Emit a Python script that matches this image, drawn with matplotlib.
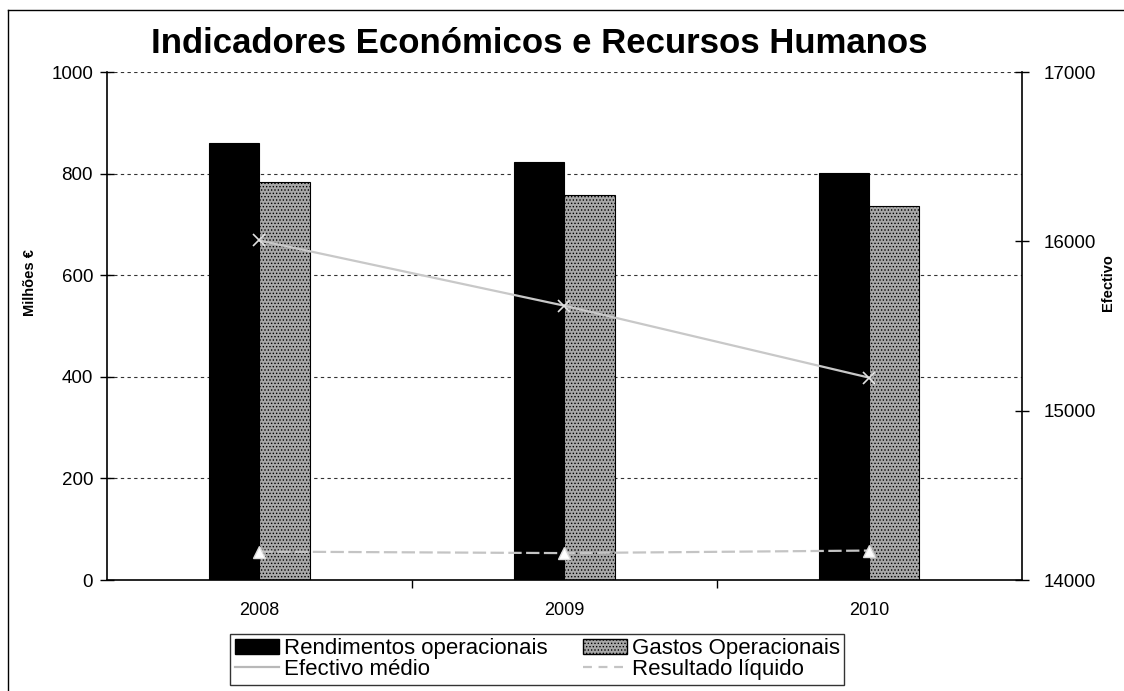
import matplotlib.pyplot as plt
import numpy as np
from matplotlib.lines import Line2D
from matplotlib.patches import Patch

plt.rcParams['font.family'] = ['Liberation Sans', 'DejaVu Sans']
plt.rcParams['hatch.color'] = '#3a3a3a'
plt.rcParams['hatch.linewidth'] = 0.6

anos = ['2008', '2009', '2010']
rendimentos = [860, 823, 801]      # Milhões €
gastos = [783, 758, 736]           # Milhões €
resultado = [56, 53, 58]           # Milhões €
efectivo = [16005, 15620, 15195]   # pessoas

x = np.arange(len(anos))
w = 0.165

fig = plt.figure(figsize=(11.24, 6.91), dpi=100)
ax = fig.add_axes([0.0952, 0.1606, 0.8137, 0.7352])
ax2 = ax.twinx()

# grelha
for g in [200, 400, 600, 800, 1000]:
    ax.axhline(g, color='#333333', lw=0.8, ls=(0, (3, 3)), zorder=0.5)

ax.bar(x - w / 2, rendimentos, w, color='black', edgecolor='black', lw=0.8, zorder=2)
ax.bar(x + w / 2, gastos, w, color='#a8a8a8', edgecolor='black', lw=0.8,
       hatch='.....', zorder=2)
ax.plot(x, resultado, color='#c4c4c4', lw=1.6, ls=(0, (6, 2)), marker='^',
        ms=9, mfc='white', mec='#dcdcdc', zorder=3)

ax2.plot(x, efectivo, color='#c8c8c8', lw=1.6, marker='x', ms=9, mew=1.2, mec='#e0e0e0')

ax.set_xlim(-0.5, 2.5)
ax.set_ylim(0, 1000)
ax2.set_ylim(14000, 17000)
ax.set_yticks([0, 200, 400, 600, 800, 1000])
ax2.set_yticks([14000, 15000, 16000, 17000])

ax.set_xticks([0.5, 1.5])
ax.set_xticklabels([])
ax.set_xticks(x, minor=True)
ax.set_xticklabels(anos, minor=True)
ax.tick_params(axis='x', which='major', direction='out', length=6, width=1)
ax.tick_params(axis='x', which='minor', length=0, pad=16, labelsize=13)
ax.tick_params(axis='y', direction='inout', length=10, width=1, labelsize=13.5, pad=5)
ax2.tick_params(axis='y', direction='inout', length=10, width=1, labelsize=13.5, pad=11)

for a in (ax, ax2):
    a.spines['top'].set_visible(False)
ax.spines['right'].set_visible(False)
ax2.spines['left'].set_visible(False)
ax2.spines['bottom'].set_visible(False)
ax.spines['left'].set_linewidth(1.2)
ax2.spines['right'].set_linewidth(1.2)
ax.spines['bottom'].set_linewidth(1.2)

ax.set_ylabel('Milhões €', fontsize=10.5, fontweight='bold')
ax2.set_ylabel('Efectivo', fontsize=10.5, fontweight='bold')
ax.yaxis.set_label_coords(-0.077, 0.585)
ax2.yaxis.set_label_coords(1.087, 0.585)

fig.text(0.48, 0.937, 'Indicadores Económicos e Recursos Humanos', ha='center',
         va='center', fontsize=25, fontweight='bold')

handles = [
    Patch(facecolor='black', edgecolor='black'),
    Line2D([], [], color='#b8b8b8', lw=1.6),
    Patch(facecolor='#a8a8a8', edgecolor='black', hatch='.....'),
    Line2D([], [], color='#c4c4c4', lw=1.6, ls=(0, (4, 3))),
]
labels = ['Rendimentos operacionais', 'Efectivo médio', 'Gastos Operacionais', 'Resultado líquido']
leg = fig.legend(handles, labels, ncol=2, loc='center', bbox_to_anchor=(0.478, 0.046),
                 fontsize=16, frameon=True, fancybox=False, edgecolor='black',
                 handlelength=2.0, handletextpad=0.2, columnspacing=1.6,
                 labelspacing=0.0, borderpad=0.2)
leg.get_frame().set_linewidth(1.0)

# moldura
fig.add_artist(Line2D([0.007, 0.007], [0.0, 0.985], color='black', lw=1.0))
fig.add_artist(Line2D([0.007, 1.0], [0.985, 0.985], color='black', lw=1.0))

fig.savefig('out.png', dpi=100)
